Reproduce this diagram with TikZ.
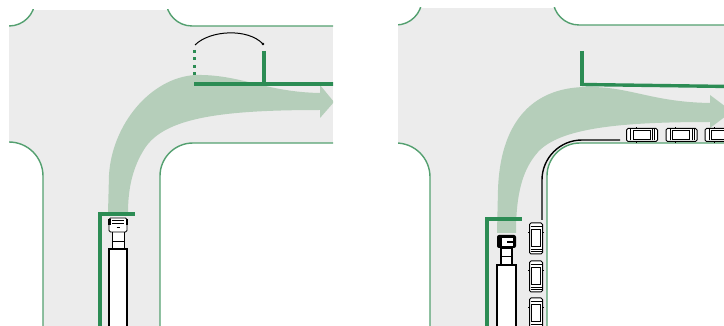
\documentclass[tikz,border=0pt]{standalone}
\usetikzlibrary{arrows.meta}
\definecolor{road}{RGB}{236,236,236}
\definecolor{curb}{RGB}{84,160,112}
\definecolor{stopgreen}{RGB}{44,140,84}
\definecolor{sweep}{RGB}{181,206,186}
\tikzset{
  curbline/.style={draw=curb,line width=1.4pt},
  stopbar/.style={draw=stopgreen,line width=3.4pt},
  kerbmark/.style={draw=black,line width=1.4pt},
  pics/car/.style={code={
    \draw[line width=1pt,fill=white,rounded corners=1.5pt] (-6.5,-15.5) rectangle (6.5,15.5);
    \draw[line width=0.7pt] (-4.5,-9) rectangle (4.5,8);
    \draw[line width=1pt] (-5.5,-11.5) -- (5.5,-11.5);
    \draw[line width=0.7pt] (-5.5,10.5) -- (5.5,10.5) (-5.5,12.8) -- (5.5,12.8);
    \draw[line width=0.8pt] (-6.5,-6) -- (-8,-6) (6.5,-6) -- (8,-6);
  }},
  pics/lighttruck/.style={code={
    \draw[line width=1.5pt,fill=white] (-9,31) rectangle (9,130);
    \draw[line width=1pt,fill=white] (-6,14) rectangle (6,31);
    \draw[line width=0.7pt] (-6,23) -- (6,23);
    \draw[line width=0.9pt,fill=white,rounded corners=1.5pt] (-9,0) rectangle (9,14);
    \fill (-10,1) rectangle (-7.5,7);
    \fill (7.5,1) rectangle (10,7);
    \draw[line width=0.7pt] (-6,2.5) -- (6,2.5) (-6,5.5) -- (6,5.5);
    \draw[line width=0.7pt] (-1.5,9.5) -- (1.5,9.5);
  }},
  pics/darktruck/.style={code={
    \draw[line width=1.5pt,fill=white] (-9.5,30) rectangle (9.5,130);
    \draw[line width=1.1pt,fill=white] (-5.5,13) rectangle (5.5,30);
    \draw[line width=0.8pt] (-5.5,21) -- (5.5,21);
    \fill[black,rounded corners=2pt] (-9.5,0) rectangle (9.5,13);
    \fill[white] (-5,3) rectangle (6,11);
    \fill[black] (0,6.2) rectangle (6,8);
  }}
}
\begin{document}
\begin{tikzpicture}[x=1pt,y=-1pt]
\useasboundingbox (0,0) rectangle (724,326);

% ---------- left junction: clear approach ----------
\begin{scope}
  \clip (9,10) rectangle (333,326);
  \fill[road] (9,10) rectangle (333,326);
  % corner blocks
  \fill[white] (0,0) -- (0,26) -- (9,26) arc[start angle=90,end angle=0,radius=26] -- cycle;
  \draw[curbline] (0,26) -- (9,26) arc[start angle=90,end angle=0,radius=26];
  \fill[white] (340,0) -- (340,26) -- (192,26) arc[start angle=90,end angle=180,radius=26] -- cycle;
  \draw[curbline] (340,26) -- (192,26) arc[start angle=90,end angle=180,radius=26];
  \fill[white] (0,142) -- (9,142) arc[start angle=270,end angle=360,radius=34] -- (43,330) -- (0,330) -- cycle;
  \draw[curbline] (0,142) -- (9,142) arc[start angle=270,end angle=360,radius=34] -- (43,330);
  \fill[white] (160,330) -- (160,176) arc[start angle=180,end angle=270,radius=33] -- (340,143) -- (340,330) -- cycle;
  \draw[curbline] (160,330) -- (160,176) arc[start angle=180,end angle=270,radius=33] -- (340,143);
  % swept path of the turn
  \fill[sweep] (108,213) -- (109,175)
     .. controls (112,125) and (150,78) .. (195,75)
     .. controls (240,74) and (265,92) .. (320,93)
     -- (320,85) -- (334,102) -- (320,118) -- (320,110)
     .. controls (220,110) and (165,118) .. (145,148)
     .. controls (132,168) and (128,190) .. (128,213) -- cycle;
  % stop bar moved back, with its old position dotted
  \draw[stopbar] (194,84) -- (340,84);
  \draw[stopbar] (264,51) -- (264,84);
  \draw[draw=stopgreen,line width=3pt,dash pattern=on 3pt off 4.5pt] (194,50) -- (194,80);
  \draw[line width=1pt] (195,45) .. controls (210,30) and (248,28) .. (263,44);
  \fill (263,44) circle[radius=1.4];
  \draw[stopbar] (100,330) -- (100,214) -- (135,214);
  \pic at (118,218) {lighttruck};
\end{scope}

% ---------- right junction: parked cars ----------
\begin{scope}
  \clip (398,8) rectangle (724,326);
  \fill[road] (398,8) rectangle (724,326);
  \fill[white] (380,0) -- (380,25) -- (396,25) arc[start angle=90,end angle=0,radius=26] -- cycle;
  \draw[curbline] (380,25) -- (396,25) arc[start angle=90,end angle=0,radius=26];
  \fill[white] (730,0) -- (730,25) -- (579,25) arc[start angle=90,end angle=180,radius=26] -- cycle;
  \draw[curbline] (730,25) -- (579,25) arc[start angle=90,end angle=180,radius=26];
  \fill[white] (380,143) -- (396,143) arc[start angle=270,end angle=360,radius=34] -- (430,330) -- (380,330) -- cycle;
  \draw[curbline] (380,143) -- (396,143) arc[start angle=270,end angle=360,radius=34] -- (430,330);
  \fill[white] (547,330) -- (547,176) arc[start angle=180,end angle=270,radius=33] -- (730,143) -- (730,330) -- cycle;
  \draw[curbline] (547,330) -- (547,176) arc[start angle=180,end angle=270,radius=33] -- (730,143);
  % swept path of the turn
  \fill[sweep] (497,233) -- (498,190)
     .. controls (500,125) and (530,88) .. (585,87)
     .. controls (630,86) and (650,102) .. (710,103)
     -- (710,95) -- (732,111.5) -- (710,128) -- (710,122)
     .. controls (620,122) and (560,128) .. (538,152)
     .. controls (522,170) and (516,195) .. (516,233) -- cycle;
  % stop bars
  \draw[stopbar] (582,84.5) -- (730,86.5);
  \draw[stopbar] (582,51) -- (582,86);
  \draw[stopbar] (487,330) -- (487,219) -- (522,219);
  % no-parking kerb marking
  \draw[kerbmark] (542,220) -- (542,180) arc[start angle=180,end angle=270,radius=40] -- (620,140);
  % parked cars
  \pic at (536,238.5) {car};
  \pic at (536,276.5) {car};
  \pic at (536,313.5) {car};
  \pic[rotate=90] at (642,135) {car};
  \pic[rotate=90] at (681.5,135) {car};
  \pic[rotate=90] at (720.5,135) {car};
  \pic at (506.5,235) {darktruck};
\end{scope}
\end{tikzpicture}
\end{document}
